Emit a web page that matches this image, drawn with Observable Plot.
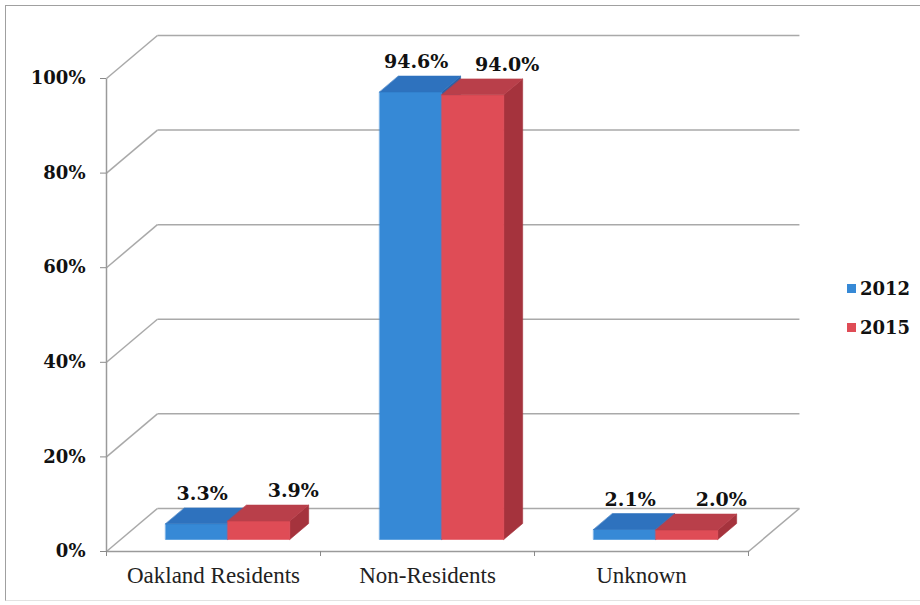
<!DOCTYPE html>
<html>
<head>
<meta charset="utf-8">
<script src="https://cdn.jsdelivr.net/npm/d3@7"></script>
<script src="https://cdn.jsdelivr.net/npm/@observablehq/plot@0.6"></script>
<style>
  body { margin: 0; background: #fff; }
  #wrap { position: relative; width: 920px; height: 605px; overflow: hidden; }
  #frame { position: absolute; left: 5px; top: 5px; width: 940px; height: 594px;
           border-left: 1.5px solid #a0a0a0; border-top: 1.5px solid #a0a0a0; border-bottom: 1px solid #e2e2e2; }
  #chart { position: absolute; left: 0; top: 0; }
  #legend { position: absolute; left: 847px; top: 276px; font: bold 18px "DejaVu Serif", serif; color: #111; }
  .item { display: flex; align-items: center; height: 24px; margin-bottom: 15px; }
  .sw { width: 9px; height: 9px; margin-right: 4px; }
</style>
</head>
<body>
<div id="wrap">
  <div id="frame"></div>
  <div id="chart"></div>
  <div id="legend"></div>
</div>
<script>
// Share of applicants by residence, 2012 vs 2015
const categories = ["Oakland Residents", "Non-Residents", "Unknown"];
const years = ["2012", "2015"];
const values2012 = [3.3, 94.6, 2.1];
const values2015 = [3.9, 94.0, 2.0];
const yTicks = [0, 20, 40, 60, 80, 100];

const palette = {
  "2012": { front: "#3689d6", top: "#2e72be", side: "#2862a8" },
  "2015": { front: "#df4c56", top: "#b93f4a", side: "#a5333d" }
};

// Oblique projection: depth z in [0,1] shifts a point right and up
const DEPTH_X = 0.238;   // x units per unit of depth
const DEPTH_Y = 9.1;     // percentage points per unit of depth
const P = (x, v, z) => ({ x: x + z * DEPTH_X, y: v + z * DEPTH_Y });

const BAR_W = 0.29, Z0 = 0.28, Z1 = 0.65;

// Bar faces as polygons, plus one label anchor per bar
const series = [values2012, values2015];
const faces = [];
const labels = [];
categories.forEach((c, i) => {
  series.forEach((vals, s) => {
    const v = vals[i];
    const col = palette[years[s]];
    const x0 = i + 0.5 - BAR_W + s * BAR_W, x1 = x0 + BAR_W;
    faces.push({ fill: col.side, pts: [P(x1, 0, Z0), P(x1, 0, Z1), P(x1, v, Z1), P(x1, v, Z0)] });
    faces.push({ fill: col.front, pts: [P(x0, 0, Z0), P(x1, 0, Z0), P(x1, v, Z0), P(x0, v, Z0)] });
    faces.push({ fill: col.top, pts: [P(x0, v, Z0), P(x1, v, Z0), P(x1, v, Z1), P(x0, v, Z1)] });
    const a = P((x0 + x1) / 2, v, (Z0 + Z1) / 2);
    labels.push({ x: a.x, y: P(0, v, Z1).y, text: d3.format(".1f")(v) + "%", year: years[s] });
  });
});
const facePoints = faces.flatMap((f, k) => f.pts.map(p => ({ ...p, id: k, fill: f.fill })));

// Walls and floor
const wallSegs = yTicks.flatMap(v => [
  { a: P(0, v, 1), b: P(3, v, 1) },
  { a: P(0, v, 0), b: P(0, v, 1) }
]);
wallSegs.push({ a: P(3, 0, 0), b: P(3, 0, 1) });
const axisSegs = [
  { a: P(0, 0, 0), b: P(3, 0, 0) },
  { a: P(0, 0, 0), b: P(0, 100, 0) }
];

const seg = { x1: d => d.a.x, y1: d => d.a.y, x2: d => d.b.x, y2: d => d.b.y };
const tickFont = { fontFamily: "DejaVu Serif", fontWeight: "bold", fontSize: 18, fill: "#111" };
const valueFont = { fontFamily: "DejaVu Serif", fontWeight: "bold", fontSize: 19, fill: "#111" };

const chart = Plot.plot({
  width: 920,
  height: 605,
  marginLeft: 106,
  marginRight: 172,
  marginTop: 78,
  marginBottom: 54,
  x: { domain: [0, 3], axis: null },
  y: { domain: [0, 100], axis: null },
  color: { type: "identity" },
  style: { background: "transparent", overflow: "visible" },
  marks: [
    Plot.link(wallSegs, { ...seg, stroke: "#a9a9a9", strokeWidth: 1.5 }),
    Plot.link(axisSegs, { ...seg, stroke: "#9a9a9a", strokeWidth: 1.5 }),
    Plot.axisY({ ticks: yTicks, tickSize: 6, tickFormat: () => "", label: null, stroke: "#8a8a8a" }),
    Plot.axisY({
      ticks: yTicks, tickSize: 0, tickPadding: 21, tickFormat: d => d + "%", label: null,
      ...tickFont
    }),
    Plot.axisX({ ticks: [0, 1, 2, 3], tickSize: 5, tickFormat: () => "", label: null, stroke: "#8a8a8a" }),
    Plot.axisX({
      ticks: categories.map((c, i) => i + 0.5), tickSize: 0, tickPadding: 15, label: null,
      tickFormat: d => categories[Math.floor(d)],
      fontFamily: "Liberation Serif", fontSize: 23, fill: "#222"
    }),
    Plot.line(facePoints, {
      x: "x", y: "y", z: "id", fill: "fill", stroke: "fill",
      strokeWidth: 0.6, curve: "linear-closed"
    }),
    Plot.text(labels.filter(d => d.year === "2012"), {
      x: "x", y: "y", text: "text", dx: -4, dy: -14, lineAnchor: "middle", ...valueFont
    }),
    Plot.text(labels.filter(d => d.year === "2015"), {
      x: "x", y: "y", text: "text", dx: 25, dy: -14, lineAnchor: "middle", ...valueFont
    })
  ]
});
document.getElementById("chart").appendChild(chart);

const legend = document.getElementById("legend");
years.forEach(y => {
  const item = document.createElement("div");
  item.className = "item";
  item.innerHTML = `<span class="sw" style="background:${palette[y].front}"></span><span>${y}</span>`;
  legend.appendChild(item);
});
</script>
</body>
</html>
